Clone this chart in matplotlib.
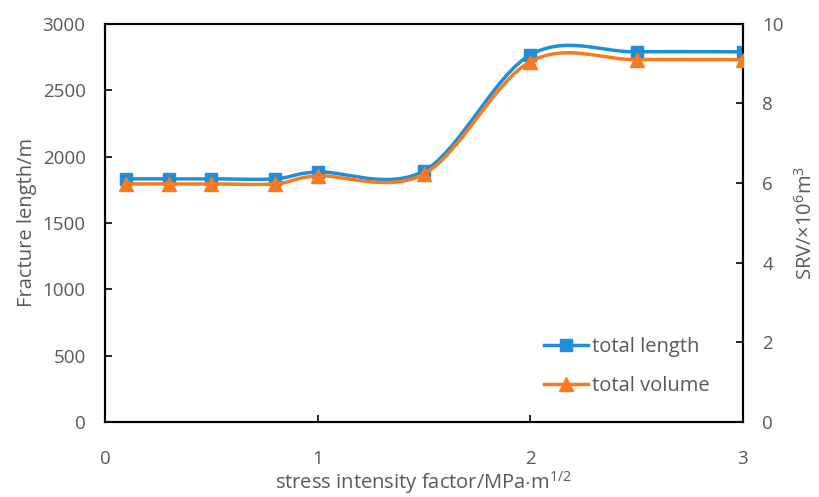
import numpy as np
import matplotlib.pyplot as plt
from matplotlib.lines import Line2D

plt.rcParams['font.family'] = ['Open Sans', 'DejaVu Sans']
plt.rcParams['mathtext.fontset'] = 'custom'
plt.rcParams['mathtext.rm'] = 'Open Sans'

# stress intensity factor, MPa*m^1/2
sif = [0.1, 0.3, 0.5, 0.8, 1.0, 1.5, 2.0, 2.5, 3.0]
# total fracture length, m (left axis)
total_length = [1832, 1832, 1832, 1832, 1884, 1892, 2766, 2789, 2789]
# total stimulated volume, 10^6 m^3 (right axis)
total_volume = [5.98, 5.98, 5.98, 5.98, 6.18, 6.23, 9.05, 9.10, 9.10]

BLUE = '#1f8fd8'
ORANGE = '#fb7a1e'
GREY = '#595959'
TICK_FS = 13.5
TITLE_FS = 14.5


def smooth(x, y, n=40):
    # cardinal (Catmull-Rom) bezier through the points, like a spreadsheet "smoothed line"
    x = np.asarray(x, float)
    y = np.asarray(y, float)
    px = np.concatenate([[x[0]], x, [x[-1]]])
    py = np.concatenate([[y[0]], y, [y[-1]]])
    xs, ys = [], []
    t = np.linspace(0, 1, n)
    for i in range(1, len(px) - 2):
        p0 = np.array([px[i], py[i]])
        p3 = np.array([px[i + 1], py[i + 1]])
        c1 = p0 + (np.array([px[i + 1], py[i + 1]]) - np.array([px[i - 1], py[i - 1]])) / 6
        c2 = p3 - (np.array([px[i + 2], py[i + 2]]) - np.array([px[i], py[i]])) / 6
        b = ((1 - t) ** 3)[:, None] * p0 + (3 * (1 - t) ** 2 * t)[:, None] * c1 \
            + (3 * (1 - t) * t ** 2)[:, None] * c2 + (t ** 3)[:, None] * p3
        xs.append(b[:, 0])
        ys.append(b[:, 1])
    return np.concatenate(xs), np.concatenate(ys)


fig = plt.figure(figsize=(8.2, 4.97), dpi=100)
ax = fig.add_axes([0.128, 0.151, 0.778, 0.801])
ax2 = ax.twinx()

sx, sy = smooth(sif, total_length)
ax.plot(sx, sy, color=BLUE, lw=2.5, zorder=3)
ax.plot(sif, total_length, ls='none', marker='s', ms=9, color=BLUE, zorder=4)

vx, vy = smooth(sif, total_volume)
ax2.plot(vx, vy, color=ORANGE, lw=2.5, zorder=3)
ax2.plot(sif, total_volume, ls='none', marker='^', ms=10, color=ORANGE, zorder=4)

ax.set_xlim(0, 3)
ax.set_ylim(0, 3000)
ax2.set_ylim(0, 10)
ax.set_xticks([0, 1, 2, 3])
ax.set_yticks(range(0, 3001, 500))
ax2.set_yticks(range(0, 11, 2))

for a in (ax, ax2):
    for s in a.spines.values():
        s.set_linewidth(1.5)
        s.set_color('black')
    a.tick_params(direction='in', length=5, width=1.2, labelsize=TICK_FS, labelcolor=GREY)
ax.tick_params(axis='x', pad=20)
ax.tick_params(axis='y', pad=14)
ax2.tick_params(axis='y', pad=14)

ax.set_xlabel('stress intensity factor/MPa$\\cdot$m$^{1/2}$', fontsize=TITLE_FS, color=GREY, labelpad=1)
ax.set_ylabel('Fracture length/m', fontsize=TITLE_FS, color=GREY, labelpad=4)
ax2.set_ylabel('SRV/$\\times$10$^6$m$^3$', fontsize=TITLE_FS, color=GREY, labelpad=8)

handles = [Line2D([], [], color=BLUE, lw=2.5, marker='s', ms=9),
           Line2D([], [], color=ORANGE, lw=2.5, marker='^', ms=10)]
leg = ax.legend(handles, ['total length', 'total volume'], loc='lower left',
                bbox_to_anchor=(0.66, 0.02), frameon=False, fontsize=TITLE_FS,
                handlelength=2.2, handletextpad=0.2, labelspacing=0.95)
for t in leg.get_texts():
    t.set_color(GREY)

fig.savefig('out.png', dpi=100)
